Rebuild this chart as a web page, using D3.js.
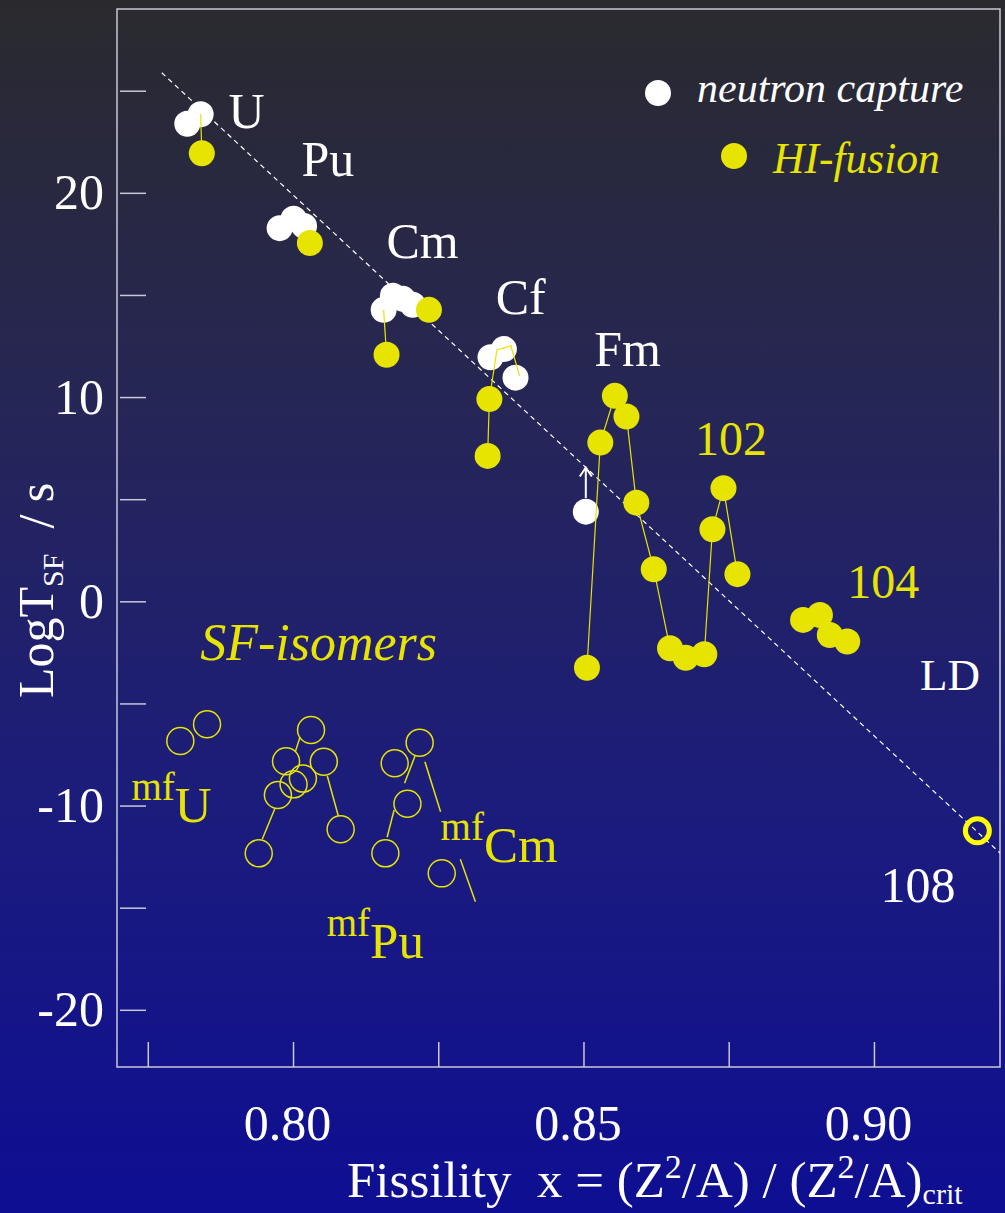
<!DOCTYPE html>
<html>
<head>
<meta charset="utf-8">
<script src="https://cdn.jsdelivr.net/npm/d3@7"></script>
<style>
  body { margin: 0; background: #0e0e92; }
  svg { display: block; }
  text { font-family: "Liberation Serif", "Times New Roman", serif; }
</style>
</head>
<body>
<div id="chart"></div>
<script>
// ---- data: [fissility x, log T_SF / s] ----
const neutronCapture = [
  [0.7818, 23.38], [0.7841, 23.85],
  [0.7977, 18.27], [0.8001, 18.73], [0.8019, 18.38],
  [0.8156, 14.27], [0.8172, 14.96], [0.8189, 14.81], [0.8206, 14.52],
  [0.8340, 11.95], [0.8363, 12.35], [0.8383, 10.95],
  [0.8504, 4.39]
];
const hiFusion = [
  [0.7843, 21.94], [0.8029, 17.54], [0.8234, 14.27], [0.8161, 12.07],
  [0.8338, 9.90], [0.8335, 7.12],
  [0.8506, -3.25], [0.8529, 7.77], [0.8554, 10.06], [0.8574, 9.05], [0.8591, 4.83],
  [0.8621, 1.57], [0.8649, -2.30], [0.8676, -2.76],
  [0.8708, -2.59], [0.8722, 3.53], [0.8741, 5.54], [0.8765, 1.33],
  [0.8878, -0.91], [0.8907, -0.67], [0.8924, -1.65], [0.8954, -1.97]
];
const isotopeChains = [
  [[0.7841, 23.85], [0.7843, 21.94]],                                         // U
  [[0.8156, 14.27], [0.8161, 12.07]],                                         // Cm
  [[0.8335, 7.12], [0.8338, 9.90], [0.8351, 12.31], [0.8375, 12.51], [0.8390, 11.04]], // Cf
  [[0.8506, -3.25], [0.8529, 7.77], [0.8554, 10.06], [0.8574, 9.05], [0.8591, 4.83],
   [0.8621, 1.57], [0.8649, -2.30]],                                          // Fm
  [[0.8708, -2.59], [0.8722, 3.53], [0.8741, 5.54], [0.8765, 1.33]]           // 102
];
const sfIsomers = [
  [0.7806, -6.84], [0.7852, -6.02],
  [0.8031, -6.30], [0.7988, -7.83], [0.8017, -8.68], [0.8001, -8.96], [0.7974, -9.48],
  [0.8053, -7.85], [0.8082, -11.16], [0.7941, -12.34],
  [0.8175, -7.93], [0.8218, -6.92], [0.8197, -9.91], [0.8159, -12.34], [0.8256, -13.32]
];
const isomerLinks = [
  [[0.7947, -11.65], [0.7969, -10.13]],
  [[0.8004, -7.36], [0.8012, -6.66]],
  [[0.8059, -8.55], [0.8078, -10.51]],
  [[0.8162, -11.55], [0.8174, -10.22]],
  [[0.8192, -8.91], [0.8210, -7.57]],
  [[0.8227, -7.85], [0.8254, -10.30]],
  [[0.8288, -12.63], [0.8314, -14.71]]
];
const ldLine = [[0.7774, 25.88], [0.9217, -12.32]];
const element108 = [[0.9178, -11.23]];
const fmLimit = [[0.8504, 5.06], [0.8504, 6.55]];   // lower limit arrow

const xTickValues = [0.775, 0.80, 0.825, 0.85, 0.875, 0.90];
const xTickLabels = ["", "0.80", "", "0.85", "", "0.90"];
const yTickValues = [25, 20, 15, 10, 5, 0, -5, -10, -15, -20];
const yTickLabels = ["", "20", "", "10", "", "0", "", "-10", "", "-20"];

const whiteLabels = [
  { text: "U", x: 0.7920, y: 23.18 },
  { text: "Pu", x: 0.8060, y: 20.83 },
  { text: "Cm", x: 0.8223, y: 16.82 },
  { text: "Cf", x: 0.8392, y: 14.07 },
  { text: "Fm", x: 0.8576, y: 11.53 },
  { text: "LD", x: 0.9131, y: -4.34 },
  { text: "108", x: 0.9076, y: -14.72 }
];
const yellowLabels = [
  { text: "102", x: 0.8754, y: 7.17 },
  { text: "104", x: 0.9016, y: 0.17 }
];
const isomerLabels = [
  { sup: "mf", main: "U", x: 0.7722, y: -10.80 },
  { sup: "mf", main: "Cm", x: 0.8254, y: -12.76 },
  { sup: "mf", main: "Pu", x: 0.8058, y: -17.46 }
];

// ---- drawing ----
const W = 1005, H = 1213;
const frame = { left: 117, right: 1000, top: 9, bottom: 1067 };
const WHITE = "#ffffff", YELLOW = "#e6e400", AXIS = "#c8c8d8";

const svg = d3.select("#chart").append("svg").attr("width", W).attr("height", H);

const grad = svg.append("defs").append("linearGradient")
  .attr("id", "bg").attr("x1", 0).attr("y1", 0).attr("x2", 0).attr("y2", 1);
grad.append("stop").attr("offset", "0").attr("stop-color", "#2a2a2e");
grad.append("stop").attr("offset", "0.33").attr("stop-color", "#262656");
grad.append("stop").attr("offset", "0.66").attr("stop-color", "#1c1c7c");
grad.append("stop").attr("offset", "1").attr("stop-color", "#0e0e93");
svg.append("rect").attr("width", W).attr("height", H).attr("fill", "url(#bg)");

const x = d3.scaleLinear().domain([0.7697, 0.9217]).range([frame.left, frame.right]);
const y = d3.scaleLinear().domain([29.0, -22.8]).range([frame.top, frame.bottom]);

// frame
svg.append("rect")
  .attr("x", frame.left).attr("y", frame.top)
  .attr("width", frame.right - frame.left).attr("height", frame.bottom - frame.top)
  .attr("fill", "none").attr("stroke", AXIS).attr("stroke-width", 1.5);

// axes
const gy = svg.append("g").attr("transform", `translate(${frame.left + 3},0)`)
  .call(d3.axisLeft(y).tickValues(yTickValues).tickSize(-26).tickPadding(16)
    .tickFormat((d, i) => yTickLabels[i]));
const gx = svg.append("g").attr("transform", `translate(0,${frame.bottom})`)
  .call(d3.axisBottom(x).tickValues(xTickValues).tickSize(-25)
    .tickFormat((d, i) => xTickLabels[i]));
[gx, gy].forEach(g => {
  g.select(".domain").remove();
  g.selectAll(".tick line").attr("stroke", AXIS).attr("stroke-width", 1.5);
  g.selectAll(".tick text").attr("fill", WHITE).attr("font-size", 50)
    .attr("font-family", "Liberation Serif, serif");
});
gx.selectAll(".tick text").attr("y", 73).attr("dy", 0).attr("dx", -6);

// liquid drop line
const line = d3.line().x(d => x(d[0])).y(d => y(d[1]));
svg.append("path").datum(ldLine).attr("d", line)
  .attr("fill", "none").attr("stroke", WHITE).attr("stroke-width", 1.2)
  .attr("stroke-dasharray", "5,4");

// neutron capture
svg.append("g").selectAll("circle").data(neutronCapture).join("circle")
  .attr("cx", d => x(d[0])).attr("cy", d => y(d[1])).attr("r", 13).attr("fill", WHITE);

// lower limit arrow on the Fm point
svg.append("path").datum(fmLimit).attr("d", line)
  .attr("stroke", WHITE).attr("stroke-width", 2).attr("fill", "none");
const tip = fmLimit[1];
svg.append("path")
  .attr("d", `M${x(tip[0]) - 6},${y(tip[1]) + 9}L${x(tip[0])},${y(tip[1])}L${x(tip[0]) + 6},${y(tip[1]) + 9}`)
  .attr("stroke", WHITE).attr("stroke-width", 2).attr("fill", "none");

// isotope chains
svg.append("g").selectAll("path").data(isotopeChains).join("path")
  .attr("d", line).attr("fill", "none").attr("stroke", YELLOW).attr("stroke-width", 1.2);

// HI-fusion
svg.append("g").selectAll("circle").data(hiFusion).join("circle")
  .attr("cx", d => x(d[0])).attr("cy", d => y(d[1])).attr("r", 13).attr("fill", YELLOW);

// element 108
svg.append("g").selectAll("circle").data(element108).join("circle")
  .attr("cx", d => x(d[0])).attr("cy", d => y(d[1])).attr("r", 12)
  .attr("fill", "none").attr("stroke", "#ffff00").attr("stroke-width", 5);

// SF isomers
svg.append("g").selectAll("path").data(isomerLinks).join("path")
  .attr("d", line).attr("stroke", YELLOW).attr("stroke-width", 1.5);
svg.append("g").selectAll("circle").data(sfIsomers).join("circle")
  .attr("cx", d => x(d[0])).attr("cy", d => y(d[1])).attr("r", 13.5)
  .attr("fill", "none").attr("stroke", YELLOW).attr("stroke-width", 1.5);

// labels
svg.append("g").selectAll("text").data(whiteLabels).join("text")
  .attr("x", d => x(d.x)).attr("y", d => y(d.y)).attr("text-anchor", "middle")
  .attr("font-size", d => d.text === "LD" ? 45 : 50).attr("fill", WHITE).text(d => d.text);
svg.append("g").selectAll("text").data(yellowLabels).join("text")
  .attr("x", d => x(d.x)).attr("y", d => y(d.y)).attr("text-anchor", "middle")
  .attr("font-size", 48).attr("fill", YELLOW).text(d => d.text);

const iso = svg.append("g").selectAll("text").data(isomerLabels).join("text")
  .attr("x", d => x(d.x)).attr("y", d => y(d.y)).attr("fill", YELLOW);
iso.append("tspan").attr("font-size", 39).attr("dy", -22).text(d => d.sup);
iso.append("tspan").attr("font-size", 51).attr("dy", 22).text(d => d.main);

svg.append("text").attr("x", x(0.8044)).attr("y", y(-2.87)).attr("text-anchor", "middle")
  .attr("font-size", 52).attr("font-style", "italic").attr("fill", YELLOW).text("SF-isomers");

// legend
svg.append("circle").attr("cx", 658).attr("cy", 93).attr("r", 13).attr("fill", WHITE);
svg.append("text").attr("x", 697).attr("y", 102).attr("font-size", 42)
  .attr("font-style", "italic").attr("fill", WHITE).text("neutron capture");
svg.append("circle").attr("cx", 734).attr("cy", 156).attr("r", 13).attr("fill", YELLOW);
svg.append("text").attr("x", 773).attr("y", 173).attr("font-size", 43.5)
  .attr("font-style", "italic").attr("fill", YELLOW).text("HI-fusion");

// axis titles
const xt = svg.append("text").attr("x", 347).attr("y", 1197).attr("fill", WHITE)
  .attr("font-size", 51).style("white-space", "pre");
xt.append("tspan").text("Fissility  x = (Z");
xt.append("tspan").attr("font-size", 34).attr("dy", -19).text("2");
xt.append("tspan").attr("dy", 19).text("/A) / (Z");
xt.append("tspan").attr("font-size", 34).attr("dy", -19).text("2");
xt.append("tspan").attr("dy", 19).text("/A)");
xt.append("tspan").attr("font-size", 30).attr("dy", 7).text("crit");

const yt = svg.append("text").attr("transform", "translate(53,698) rotate(-90)")
  .attr("fill", WHITE).attr("font-size", 50).style("white-space", "pre");
yt.append("tspan").text("LogT");
yt.append("tspan").attr("font-size", 30).attr("dy", 10).text("SF");
yt.append("tspan").attr("dy", -10).text("  / s");
</script>
</body>
</html>
